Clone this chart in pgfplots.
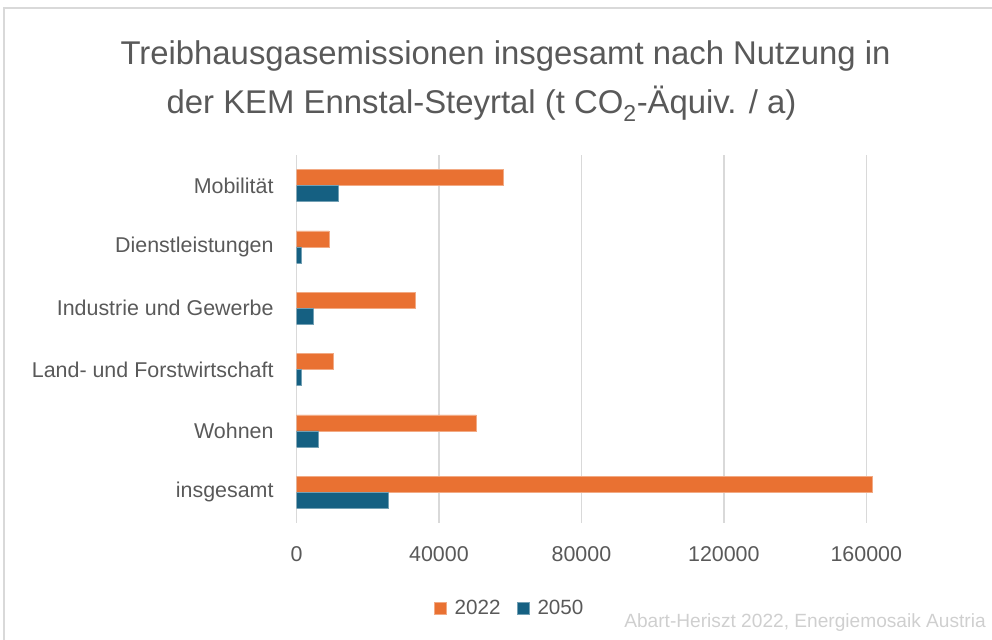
\documentclass[border=0pt]{standalone}
\usepackage{fontspec}
\setmainfont{Liberation Sans}
\usepackage{pgfplots}
\pgfplotsset{compat=1.18}

\definecolor{orangeBar}{HTML}{E97132}
\definecolor{blueBar}{HTML}{156082}
\definecolor{txt}{HTML}{595959}
\definecolor{gridc}{HTML}{D9D9D9}
\definecolor{srcc}{HTML}{CFCFCF}

\begin{document}
\begin{tikzpicture}[x=1bp,y=1bp]
  \useasboundingbox (0,0) rectangle (992,640);
  % chart frame (cut off right and bottom)
  \draw[gridc, line width=1.5bp] (4,-5) -- (4,632) -- (1000,632);
  % title
  \node[txt, font=\fontsize{33}{38}\selectfont, anchor=base, inner sep=0] at (505.5,575.7) {Treibhausgasemissionen insgesamt nach Nutzung in};
  \node[txt, font=\fontsize{33}{38}\selectfont, anchor=base, inner sep=0] at (481.5,526) {der KEM Ennstal-Steyrtal (t CO\textsubscript{2}-Äquiv. / a)};
  % source
  \node[srcc, font=\fontsize{19.2}{22}\selectfont, anchor=east, inner sep=0] at (986,17) {Abart-Heriszt 2022, Energiemosaik Austria};

  \begin{axis}[
    at={(296.5bp,117bp)}, anchor=south west,
    scale only axis,
    width=623.2bp, height=368bp,
    xbar, bar width=16bp,
    xmin=0, xmax=175000,
    ymin=-0.5, ymax=5.5,
    scaled x ticks=false,
    xtick={0,40000,80000,120000,160000},
    xticklabels={0,40000,80000,120000,160000},
    ytick={0,1,2,3,4,5},
    yticklabels={insgesamt\ , Wohnen, Land- und Forstwirtschaft, Industrie und Gewerbe\ , Dienstleistungen, Mobilität},
    xmajorgrids=true,
    grid style={gridc, line width=1.5bp},
    axis line style={draw=none},
    major tick style={draw=none},
    tick label style={txt, font=\fontsize{21.5}{24}\selectfont, inner sep=0},
    yticklabel style={anchor=east, xshift=-18.5bp},
    xticklabel style={anchor=north, yshift=-23.7bp},
    legend style={at={(0.3418,-0.232)}, anchor=center, draw=none, fill=none,
      legend columns=2, font=\fontsize{20.7}{24}\selectfont, text=txt,
      /tikz/every odd column/.append style={column sep=6bp},
      /tikz/every even column/.append style={column sep=14bp}},
    legend image code/.code={\fill[#1] (0bp,-6.25bp) rectangle (12.5bp,6.25bp);},
  ]
    \addplot[fill=orangeBar, draw=orangeBar!60!white, line width=0.5bp, bar shift=8bp]
      coordinates {(161800,0) (50500,1) (10200,2) (33300,3) (9100,4) (58100,5)};
    \addplot[fill=blueBar, draw=blueBar!60!white, line width=0.5bp, bar shift=-8bp]
      coordinates {(25800,0) (6200,1) (1200,2) (4700,3) (1200,4) (11700,5)};
    \legend{2022, 2050}
  \end{axis}
\end{tikzpicture}
\end{document}
